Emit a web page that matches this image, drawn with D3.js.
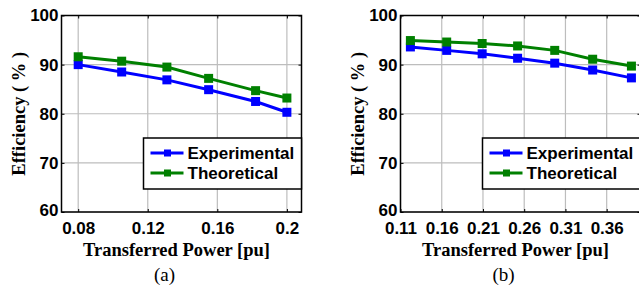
<!DOCTYPE html>
<html>
<head>
<meta charset="utf-8">
<script src="https://cdn.jsdelivr.net/npm/d3@7"></script>
<style>
body { margin: 0; background: #fff; }
svg { display: block; }
.tick text { font-family: "Liberation Sans", Arial, sans-serif; font-weight: bold; font-size: 17px; fill: #000; }
.axlabel { font-family: "Liberation Serif", "Times New Roman", serif; font-weight: bold; font-size: 18.5px; fill: #000; }
.caption { font-family: "Liberation Serif", "Times New Roman", serif; font-size: 19px; fill: #000; }
.legtext { font-family: "Liberation Sans", Arial, sans-serif; font-weight: bold; font-size: 17px; fill: #000; }
</style>
</head>
<body>
<svg width="639" height="288"></svg>
<script>
var series = [ "Experimental", "Theoretical" ];
var colors = [ "#0000ff", "#008000" ];

// panel (a)
var powerA = [ 0.08, 0.105, 0.131, 0.155, 0.182, 0.2 ];
var expA = [ 90.0, 88.5, 86.9, 84.9, 82.5, 80.3 ];
var theoA = [ 91.6, 90.7, 89.5, 87.2, 84.7, 83.2 ];
var xTicksA = [ 0.08, 0.12, 0.16, 0.2 ];

// panel (b)
var powerB = [ 0.122, 0.166, 0.209, 0.252, 0.297, 0.343, 0.39 ];
var expB = [ 93.6, 92.9, 92.2, 91.3, 90.3, 88.9, 87.3 ];
var theoB = [ 94.9, 94.6, 94.3, 93.8, 92.9, 91.1, 89.7 ];
var xTicksB = [ 0.11, 0.16, 0.21, 0.26, 0.31, 0.36 ];

var yTicks = [ 60, 70, 80, 90, 100 ];

var svg = d3.select("svg");

function panel(left, xDomain, xTicks, xFormat, power, values, caption) {
	var top = 15.5, width = 240, height = 196.5;
	var g = svg.append("g").attr("transform", "translate(" + left + "," + top + ")");
	var x = d3.scaleLinear().domain(xDomain).range([ 0, width ]);
	var y = d3.scaleLinear().domain([ 60, 100 ]).range([ height, 0 ]);

	// grid
	g.append("g").selectAll("line").data(xTicks).enter().append("line")
		.attr("x1", x).attr("x2", x).attr("y1", 0).attr("y2", height)
		.attr("stroke", "#bdbdbd").attr("stroke-width", 1.2);
	g.append("g").selectAll("line").data(yTicks).enter().append("line")
		.attr("y1", y).attr("y2", y).attr("x1", 0).attr("x2", width)
		.attr("stroke", "#bdbdbd").attr("stroke-width", 1.2);

	// axes with inward ticks
	var xa = g.append("g").attr("transform", "translate(0," + height + ")")
		.call(d3.axisBottom(x).tickValues(xTicks).tickFormat(xFormat).tickSizeInner(-3).tickSizeOuter(0).tickPadding(7));
	var ya = g.append("g")
		.call(d3.axisLeft(y).tickValues(yTicks).tickSizeInner(-3).tickSizeOuter(0).tickPadding(5));
	g.append("g").attr("transform", "translate(" + width + ",0)")
		.call(d3.axisRight(y).tickValues(yTicks).tickSizeInner(-3).tickSizeOuter(0).tickFormat(""));
	g.append("g")
		.call(d3.axisTop(x).tickValues(xTicks).tickSizeInner(-3).tickSizeOuter(0).tickFormat(""));
	g.selectAll(".domain").attr("stroke", "none");
	g.selectAll(".tick line").attr("stroke", "#000");
	xa.selectAll(".tick text").attr("dy", "0.88em");
	ya.selectAll(".tick text").attr("dx", "2").attr("dy", function(d) { return d === 60 ? "0.22em" : "0.32em"; });
	g.append("rect").attr("width", width).attr("height", height)
		.attr("fill", "none").attr("stroke", "#000").attr("stroke-width", 1.5);

	// series
	var line = d3.line().x(function(d) { return x(d.x); }).y(function(d) { return y(d.y); });
	values.forEach(function(vals, i) {
		var pts = power.map(function(p, j) { return { x : p, y : vals[j] }; });
		g.append("path").datum(pts).attr("d", line).attr("fill", "none")
			.attr("stroke", colors[i]).attr("stroke-width", 3);
		g.append("g").selectAll("rect").data(pts).enter().append("rect")
			.attr("x", function(d) { return x(d.x) - 4.5; })
			.attr("y", function(d) { return y(d.y) - 4.5; })
			.attr("width", 9).attr("height", 9).attr("fill", colors[i]);
	});

	// legend
	var lg = g.append("g").attr("transform", "translate(" + (width - 158) + ",122.5)");
	lg.append("rect").attr("width", 158).attr("height", 51).attr("fill", "#fff")
		.attr("stroke", "#000").attr("stroke-width", 1.5);
	var items = lg.selectAll("g").data(series).enter().append("g")
		.attr("transform", function(d, i) { return "translate(0," + (15 + i * 20) + ")"; });
	items.append("line").attr("x1", 7).attr("x2", 40).attr("stroke", function(d, i) { return colors[i]; })
		.attr("stroke-width", 3);
	items.append("rect").attr("x", 20.5).attr("y", -3.5).attr("width", 7).attr("height", 7)
		.attr("fill", function(d, i) { return colors[i]; });
	items.append("text").attr("class", "legtext").attr("x", 44).attr("dy", "0.36em").text(function(d) { return d; });

	// labels
	g.append("text").attr("class", "axlabel").attr("text-anchor", "middle")
		.attr("transform", "translate(-37," + (height / 2) + ") rotate(-90)")
		.text("Efficiency ( % )");
	g.append("text").attr("class", "axlabel").attr("text-anchor", "middle")
		.attr("x", 115).attr("y", height + 44).text("Transferred Power [pu]");
	g.append("text").attr("class", "caption").attr("text-anchor", "middle")
		.attr("x", 103).attr("y", height + 69).text(caption);
}

panel(61.5, [ 0.0704, 0.2084 ], xTicksA, function(d) { return d === 0.2 ? "0.2" : d3.format(".2f")(d); },
	powerA, [ expA, theoA ], "(a)");
panel(400.5, [ 0.11, 0.401 ], xTicksB, d3.format(".2f"), powerB, [ expB, theoB ], "(b)");
</script>
</body>
</html>
